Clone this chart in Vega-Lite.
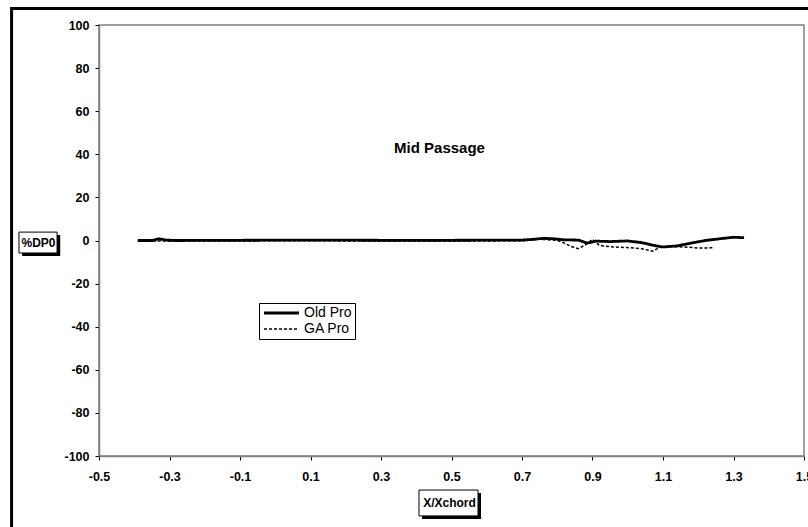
{
  "$schema": "https://vega.github.io/schema/vega-lite/v6.json",
  "width": 705,
  "height": 431,
  "autosize": {"type": "none"},
  "padding": {"left": 99, "top": 25, "right": 4, "bottom": 71},
  "background": "white",
  "config": {
    "font": "Liberation Sans",
    "view": {"stroke": "#808080", "strokeWidth": 1.5},
    "locale": {"number": {"decimal": ".", "thousands": ",", "grouping": [3], "currency": ["$", ""], "minus": "-"}}
  },
  "datasets": {
    "lines": [
      {"x": -0.39, "y": 0, "series": "Old Pro"},
      {"x": -0.35, "y": 0, "series": "Old Pro"},
      {"x": -0.33, "y": 0.8, "series": "Old Pro"},
      {"x": -0.31, "y": 0.2, "series": "Old Pro"},
      {"x": -0.28, "y": 0, "series": "Old Pro"},
      {"x": -0.1, "y": 0.1, "series": "Old Pro"},
      {"x": 0.1, "y": 0.2, "series": "Old Pro"},
      {"x": 0.3, "y": 0.1, "series": "Old Pro"},
      {"x": 0.5, "y": 0.1, "series": "Old Pro"},
      {"x": 0.7, "y": 0.2, "series": "Old Pro"},
      {"x": 0.73, "y": 0.5, "series": "Old Pro"},
      {"x": 0.76, "y": 1.0, "series": "Old Pro"},
      {"x": 0.79, "y": 0.8, "series": "Old Pro"},
      {"x": 0.82, "y": 0.3, "series": "Old Pro"},
      {"x": 0.86, "y": 0.2, "series": "Old Pro"},
      {"x": 0.885, "y": -1.2, "series": "Old Pro"},
      {"x": 0.91, "y": -0.3, "series": "Old Pro"},
      {"x": 0.95, "y": -0.5, "series": "Old Pro"},
      {"x": 1.0, "y": -0.2, "series": "Old Pro"},
      {"x": 1.04, "y": -1.0, "series": "Old Pro"},
      {"x": 1.08, "y": -2.5, "series": "Old Pro"},
      {"x": 1.1, "y": -3.0, "series": "Old Pro"},
      {"x": 1.14, "y": -2.5, "series": "Old Pro"},
      {"x": 1.18, "y": -1.2, "series": "Old Pro"},
      {"x": 1.22, "y": 0, "series": "Old Pro"},
      {"x": 1.26, "y": 0.8, "series": "Old Pro"},
      {"x": 1.3, "y": 1.5, "series": "Old Pro"},
      {"x": 1.33, "y": 1.3, "series": "Old Pro"},
      {"x": -0.39, "y": -0.2, "series": "GA Pro"},
      {"x": -0.3, "y": -0.3, "series": "GA Pro"},
      {"x": -0.1, "y": -0.2, "series": "GA Pro"},
      {"x": 0.1, "y": -0.1, "series": "GA Pro"},
      {"x": 0.3, "y": -0.3, "series": "GA Pro"},
      {"x": 0.5, "y": -0.3, "series": "GA Pro"},
      {"x": 0.7, "y": -0.1, "series": "GA Pro"},
      {"x": 0.75, "y": 0.6, "series": "GA Pro"},
      {"x": 0.8, "y": 0.1, "series": "GA Pro"},
      {"x": 0.82, "y": -1.2, "series": "GA Pro"},
      {"x": 0.84, "y": -2.8, "series": "GA Pro"},
      {"x": 0.86, "y": -3.8, "series": "GA Pro"},
      {"x": 0.88, "y": -2.0, "series": "GA Pro"},
      {"x": 0.9, "y": 0.5, "series": "GA Pro"},
      {"x": 0.92, "y": -2.3, "series": "GA Pro"},
      {"x": 0.96, "y": -3.0, "series": "GA Pro"},
      {"x": 1.0, "y": -3.3, "series": "GA Pro"},
      {"x": 1.04, "y": -3.8, "series": "GA Pro"},
      {"x": 1.07, "y": -5.0, "series": "GA Pro"},
      {"x": 1.09, "y": -3.2, "series": "GA Pro"},
      {"x": 1.12, "y": -2.8, "series": "GA Pro"},
      {"x": 1.16, "y": -3.0, "series": "GA Pro"},
      {"x": 1.2, "y": -3.5, "series": "GA Pro"},
      {"x": 1.24, "y": -3.4, "series": "GA Pro"}
    ],
    "one": [{}]
  },
  "layer": [
    {
      "data": {"name": "one"},
      "mark": {"type": "rect", "filled": false, "stroke": "black", "strokeWidth": 3, "clip": false},
      "encoding": {
        "x": {"datum": -0.748, "type": "quantitative"},
        "x2": {"datum": 2.1},
        "y": {"datum": 107.7, "type": "quantitative"},
        "y2": {"datum": -150}
      }
    },
    {
      "data": {"name": "one"},
      "mark": {"type": "rect", "fill": "black", "clip": false},
      "encoding": {
        "x": {"datum": -0.718, "type": "quantitative"},
        "x2": {"datum": -0.610},
        "y": {"datum": 2.5, "type": "quantitative"},
        "y2": {"datum": -7.2}
      }
    },
    {
      "data": {"name": "one"},
      "mark": {"type": "rect", "fill": "white", "stroke": "black", "strokeWidth": 1, "clip": false},
      "encoding": {
        "x": {"datum": -0.727, "type": "quantitative"},
        "x2": {"datum": -0.619},
        "y": {"datum": 3.9, "type": "quantitative"},
        "y2": {"datum": -5.8}
      }
    },
    {
      "data": {"name": "one"},
      "mark": {"type": "rect", "fill": "black", "clip": false},
      "encoding": {
        "x": {"datum": 0.4163, "type": "quantitative"},
        "x2": {"datum": 0.5837},
        "y": {"datum": -117.2, "type": "quantitative"},
        "y2": {"datum": -129.2}
      }
    },
    {
      "data": {"name": "one"},
      "mark": {"type": "rect", "fill": "white", "stroke": "black", "strokeWidth": 1, "clip": false},
      "encoding": {
        "x": {"datum": 0.4078, "type": "quantitative"},
        "x2": {"datum": 0.5752},
        "y": {"datum": -115.8, "type": "quantitative"},
        "y2": {"datum": -127.8}
      }
    },
    {
      "data": {"name": "lines"},
      "mark": {"type": "line", "color": "black", "clip": true},
      "encoding": {
        "x": {
          "field": "x", "type": "quantitative",
          "scale": {"domain": [-0.5, 1.5], "nice": false, "zero": false},
          "axis": {
            "zindex": 1,
            "values": [-0.5, -0.3, -0.1, 0.1, 0.3, 0.5, 0.7, 0.9, 1.1, 1.3, 1.5],
            "format": ".1f",
            "grid": false,
            "domainColor": "#808080", "domainWidth": 1.5,
            "tickColor": "black", "tickSize": 4,
            "labelFont": "Liberation Sans", "labelFontWeight": "bold", "labelFontSize": 12.5, "labelColor": "black",
            "labelPadding": 10,
            "labelOverlap": false, "labelFlush": false,
            "title": "X/Xchord",
            "titleFont": "Liberation Sans", "titleFontWeight": "bold", "titleFontSize": 12, "titleColor": "black",
            "titleX": 350, "titleY": 46, "titleAlign": "center", "titleBaseline": "middle", "titleAnchor": null
          }
        },
        "y": {
          "field": "y", "type": "quantitative",
          "scale": {"domain": [-100, 100], "nice": false},
          "axis": {
            "zindex": 1,
            "values": [-100, -80, -60, -40, -20, 0, 20, 40, 60, 80, 100],
            "grid": false,
            "domainColor": "#808080", "domainWidth": 1.5,
            "tickColor": "black", "tickSize": 4,
            "labelFont": "Liberation Sans", "labelFontWeight": "bold", "labelFontSize": 12.5, "labelColor": "black",
            "labelPadding": 6,
            "labelFlush": false,
            "title": "%DP0",
            "titleFont": "Liberation Sans", "titleFontWeight": "bold", "titleFontSize": 12, "titleColor": "black",
            "titleAngle": 0, "titleX": -61, "titleY": 217, "titleAlign": "center", "titleBaseline": "middle"
          }
        },
        "detail": {"field": "series"},
        "strokeDash": {
          "field": "series", "type": "nominal",
          "scale": {"domain": ["Old Pro", "GA Pro"], "range": [[1, 0], [3, 2]]},
          "legend": {
            "title": null,
            "orient": "none", "legendX": 160, "legendY": 278,
            "strokeColor": "black", "fillColor": "white",
            "padding": 3,
            "symbolType": "M-1,0H6", "symbolSize": 100, "symbolStrokeColor": "black", "symbolStrokeWidth": 2,
            "labelFont": "Liberation Sans", "labelFontSize": 14, "labelColor": "black", "labelOffset": 28,
            "rowPadding": 2, "labelLimit": 200
          }
        },
        "strokeWidth": {
          "field": "series", "type": "nominal",
          "scale": {"domain": ["Old Pro", "GA Pro"], "range": [2.8, 1.5]},
          "legend": null
        },
        "order": {"field": "x", "type": "quantitative"}
      }
    },
    {
      "data": {"name": "one"},
      "mark": {"type": "text", "text": "Mid Passage", "font": "Liberation Sans", "fontWeight": "bold", "fontSize": 15, "align": "center", "baseline": "middle", "color": "black"},
      "encoding": {
        "x": {"datum": 0.466, "type": "quantitative"},
        "y": {"datum": 42.8, "type": "quantitative"}
      }
    }
  ]
}
